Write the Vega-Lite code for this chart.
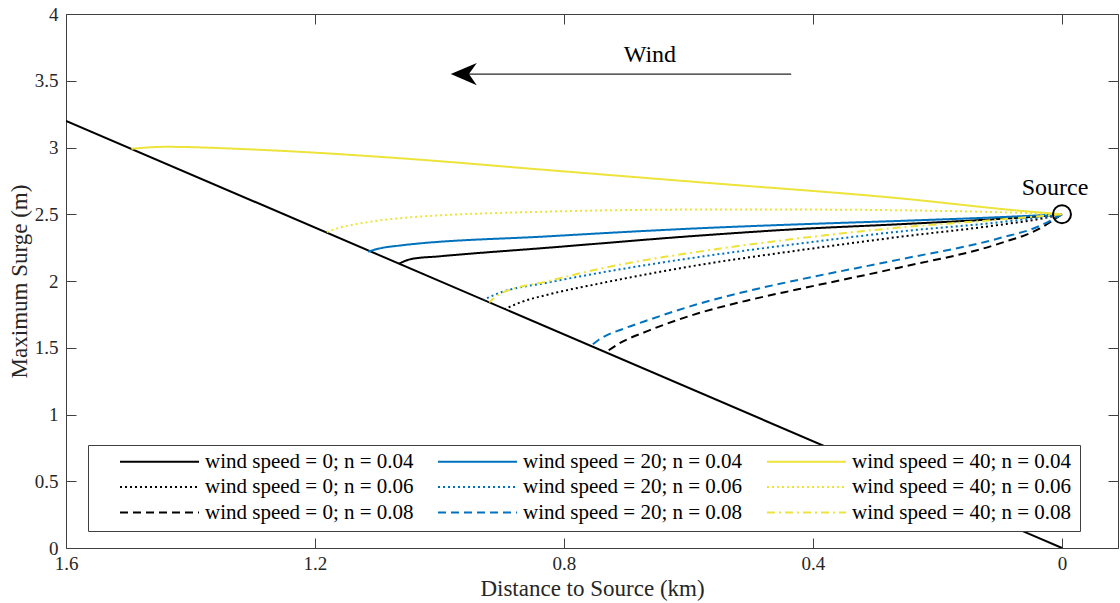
{
  "$schema": "https://vega.github.io/schema/vega-lite/v6.json",
  "width": 1052,
  "height": 534,
  "autosize": "none",
  "padding": {"left": 66, "top": 14, "right": 2, "bottom": 55},
  "background": "white",
  "config": {
    "view": {"stroke": "#404040", "strokeWidth": 1},
    "font": "Liberation Serif",
    "axis": {
      "grid": false,
      "domain": false,
      "tickColor": "#404040",
      "tickSize": -10,
      "labelColor": "#262626",
      "labelFont": "Liberation Serif",
      "labelFontSize": 19,
      "titleFont": "Liberation Serif",
      "titleFontSize": 23,
      "titleFontWeight": "normal",
      "titleColor": "#262626",
      "labelFlush": false
    }
  },
  "datasets": {
    "shore": [
      {"x": 1.6, "y": 3.2},
      {"x": 0.0, "y": 0.0}
    ],
    "curves": [
      {"series": "wind speed = 0; n = 0.04", "x": 1.065, "y": 2.13},
      {"series": "wind speed = 0; n = 0.04", "x": 1.045, "y": 2.165},
      {"series": "wind speed = 0; n = 0.04", "x": 1.0, "y": 2.185},
      {"series": "wind speed = 0; n = 0.04", "x": 0.824, "y": 2.25},
      {"series": "wind speed = 0; n = 0.04", "x": 0.583, "y": 2.34},
      {"series": "wind speed = 0; n = 0.04", "x": 0.42, "y": 2.39},
      {"series": "wind speed = 0; n = 0.04", "x": 0.262, "y": 2.425},
      {"series": "wind speed = 0; n = 0.04", "x": 0.101, "y": 2.465},
      {"series": "wind speed = 0; n = 0.04", "x": 0.03, "y": 2.487},
      {"series": "wind speed = 0; n = 0.04", "x": 0.0, "y": 2.5},

      {"series": "wind speed = 20; n = 0.04", "x": 1.115, "y": 2.22},
      {"series": "wind speed = 20; n = 0.04", "x": 1.09, "y": 2.25},
      {"series": "wind speed = 20; n = 0.04", "x": 1.065, "y": 2.265},
      {"series": "wind speed = 20; n = 0.04", "x": 0.824, "y": 2.335},
      {"series": "wind speed = 20; n = 0.04", "x": 0.583, "y": 2.395},
      {"series": "wind speed = 20; n = 0.04", "x": 0.42, "y": 2.425},
      {"series": "wind speed = 20; n = 0.04", "x": 0.262, "y": 2.45},
      {"series": "wind speed = 20; n = 0.04", "x": 0.101, "y": 2.478},
      {"series": "wind speed = 20; n = 0.04", "x": 0.0, "y": 2.5},

      {"series": "wind speed = 40; n = 0.04", "x": 1.495, "y": 2.99},
      {"series": "wind speed = 40; n = 0.04", "x": 1.47, "y": 3.0},
      {"series": "wind speed = 40; n = 0.04", "x": 1.439, "y": 3.005},
      {"series": "wind speed = 40; n = 0.04", "x": 1.3, "y": 2.985},
      {"series": "wind speed = 40; n = 0.04", "x": 1.065, "y": 2.92},
      {"series": "wind speed = 40; n = 0.04", "x": 0.824, "y": 2.83},
      {"series": "wind speed = 40; n = 0.04", "x": 0.583, "y": 2.74},
      {"series": "wind speed = 40; n = 0.04", "x": 0.262, "y": 2.62},
      {"series": "wind speed = 40; n = 0.04", "x": 0.053, "y": 2.52},
      {"series": "wind speed = 40; n = 0.04", "x": 0.0, "y": 2.5},

      {"series": "wind speed = 0; n = 0.06", "x": 0.895, "y": 1.79},
      {"series": "wind speed = 0; n = 0.06", "x": 0.87, "y": 1.84},
      {"series": "wind speed = 0; n = 0.06", "x": 0.824, "y": 1.9},
      {"series": "wind speed = 0; n = 0.06", "x": 0.744, "y": 1.98},
      {"series": "wind speed = 0; n = 0.06", "x": 0.583, "y": 2.12},
      {"series": "wind speed = 0; n = 0.06", "x": 0.422, "y": 2.23},
      {"series": "wind speed = 0; n = 0.06", "x": 0.262, "y": 2.33},
      {"series": "wind speed = 0; n = 0.06", "x": 0.101, "y": 2.42},
      {"series": "wind speed = 0; n = 0.06", "x": 0.03, "y": 2.47},
      {"series": "wind speed = 0; n = 0.06", "x": 0.0, "y": 2.5},

      {"series": "wind speed = 20; n = 0.06", "x": 0.929, "y": 1.86},
      {"series": "wind speed = 20; n = 0.06", "x": 0.904, "y": 1.91},
      {"series": "wind speed = 20; n = 0.06", "x": 0.824, "y": 1.99},
      {"series": "wind speed = 20; n = 0.06", "x": 0.744, "y": 2.06},
      {"series": "wind speed = 20; n = 0.06", "x": 0.583, "y": 2.18},
      {"series": "wind speed = 20; n = 0.06", "x": 0.422, "y": 2.28},
      {"series": "wind speed = 20; n = 0.06", "x": 0.262, "y": 2.37},
      {"series": "wind speed = 20; n = 0.06", "x": 0.101, "y": 2.44},
      {"series": "wind speed = 20; n = 0.06", "x": 0.03, "y": 2.48},
      {"series": "wind speed = 20; n = 0.06", "x": 0.0, "y": 2.5},

      {"series": "wind speed = 40; n = 0.06", "x": 1.182, "y": 2.365},
      {"series": "wind speed = 40; n = 0.06", "x": 1.16, "y": 2.4},
      {"series": "wind speed = 40; n = 0.06", "x": 1.129, "y": 2.43},
      {"series": "wind speed = 40; n = 0.06", "x": 1.065, "y": 2.47},
      {"series": "wind speed = 40; n = 0.06", "x": 0.824, "y": 2.52},
      {"series": "wind speed = 40; n = 0.06", "x": 0.583, "y": 2.535},
      {"series": "wind speed = 40; n = 0.06", "x": 0.42, "y": 2.535},
      {"series": "wind speed = 40; n = 0.06", "x": 0.262, "y": 2.53},
      {"series": "wind speed = 40; n = 0.06", "x": 0.1, "y": 2.515},
      {"series": "wind speed = 40; n = 0.06", "x": 0.0, "y": 2.5},

      {"series": "wind speed = 0; n = 0.08", "x": 0.733, "y": 1.466},
      {"series": "wind speed = 0; n = 0.08", "x": 0.712, "y": 1.53},
      {"series": "wind speed = 0; n = 0.08", "x": 0.663, "y": 1.63},
      {"series": "wind speed = 0; n = 0.08", "x": 0.583, "y": 1.76},
      {"series": "wind speed = 0; n = 0.08", "x": 0.5, "y": 1.86},
      {"series": "wind speed = 0; n = 0.08", "x": 0.422, "y": 1.94},
      {"series": "wind speed = 0; n = 0.08", "x": 0.262, "y": 2.1},
      {"series": "wind speed = 0; n = 0.08", "x": 0.101, "y": 2.28},
      {"series": "wind speed = 0; n = 0.08", "x": 0.037, "y": 2.39},
      {"series": "wind speed = 0; n = 0.08", "x": 0.0, "y": 2.5},

      {"series": "wind speed = 20; n = 0.08", "x": 0.757, "y": 1.514},
      {"series": "wind speed = 20; n = 0.08", "x": 0.744, "y": 1.56},
      {"series": "wind speed = 20; n = 0.08", "x": 0.7, "y": 1.65},
      {"series": "wind speed = 20; n = 0.08", "x": 0.663, "y": 1.71},
      {"series": "wind speed = 20; n = 0.08", "x": 0.583, "y": 1.83},
      {"series": "wind speed = 20; n = 0.08", "x": 0.5, "y": 1.93},
      {"series": "wind speed = 20; n = 0.08", "x": 0.422, "y": 2.01},
      {"series": "wind speed = 20; n = 0.08", "x": 0.262, "y": 2.16},
      {"series": "wind speed = 20; n = 0.08", "x": 0.101, "y": 2.32},
      {"series": "wind speed = 20; n = 0.08", "x": 0.037, "y": 2.41},
      {"series": "wind speed = 20; n = 0.08", "x": 0.0, "y": 2.5},

      {"series": "wind speed = 40; n = 0.08", "x": 0.92, "y": 1.84},
      {"series": "wind speed = 40; n = 0.08", "x": 0.904, "y": 1.9},
      {"series": "wind speed = 40; n = 0.08", "x": 0.824, "y": 2.0},
      {"series": "wind speed = 40; n = 0.08", "x": 0.744, "y": 2.09},
      {"series": "wind speed = 40; n = 0.08", "x": 0.583, "y": 2.22},
      {"series": "wind speed = 40; n = 0.08", "x": 0.422, "y": 2.32},
      {"series": "wind speed = 40; n = 0.08", "x": 0.262, "y": 2.4},
      {"series": "wind speed = 40; n = 0.08", "x": 0.101, "y": 2.46},
      {"series": "wind speed = 40; n = 0.08", "x": 0.0, "y": 2.5}
    ],
    "source": [{"x": 0.0, "y": 2.5, "label": "Source"}],
    "windArrow": [{"x": 0.435, "x2": 0.953, "y": 3.55, "tip": 0.961, "label": "Wind", "lx": 0.662, "ly": 3.69}]
  },
  "layer": [
    {
      "data": {"name": "shore"},
      "mark": {"type": "line", "color": "black", "strokeWidth": 2, "clip": true},
      "encoding": {
        "x": {
          "field": "x", "type": "quantitative",
          "scale": {"domain": [-0.09, 1.6], "reverse": true, "nice": false, "zero": false},
          "axis": {"orient": "bottom", "values": [0, 0.4, 0.8, 1.2, 1.6], "format": "~g", "title": "Distance to Source (km)", "labelPadding": 16, "titlePadding": 4}
        },
        "y": {
          "field": "y", "type": "quantitative",
          "scale": {"domain": [0, 4], "nice": false},
          "axis": {"orient": "left", "values": [0, 0.5, 1, 1.5, 2, 2.5, 3, 3.5, 4], "format": "~g", "title": "Maximum Surge (m)", "labelPadding": 18, "titlePadding": 3}
        }
      }
    },
    {
      "data": {"name": "shore"},
      "mark": {"type": "point", "opacity": 0},
      "encoding": {
        "x": {"field": "x", "type": "quantitative", "axis": {"orient": "top", "values": [0, 0.4, 0.8, 1.2, 1.6], "labels": false, "title": null}},
        "y": {"field": "y", "type": "quantitative", "axis": {"orient": "right", "values": [0, 0.5, 1, 1.5, 2, 2.5, 3, 3.5, 4], "labels": false, "title": null}}
      }
    },
    {
      "data": {"name": "curves"},
      "mark": {"type": "line", "strokeWidth": 2, "clip": true, "interpolate": "monotone"},
      "encoding": {
        "x": {"field": "x", "type": "quantitative", "axis": null},
        "y": {"field": "y", "type": "quantitative", "axis": null},
        "order": {"field": "x"},
        "color": {
          "field": "series", "type": "nominal",
          "scale": {
            "domain": ["wind speed = 0; n = 0.04", "wind speed = 0; n = 0.06", "wind speed = 0; n = 0.08",
                       "wind speed = 20; n = 0.04", "wind speed = 20; n = 0.06", "wind speed = 20; n = 0.08",
                       "wind speed = 40; n = 0.04", "wind speed = 40; n = 0.06", "wind speed = 40; n = 0.08"],
            "range": ["#000000", "#000000", "#000000", "#0072BD", "#0072BD", "#0072BD", "#EDE33A", "#EDE33A", "#EDE33A"]
          },
          "legend": {
            "orient": "none", "legendX": 22, "legendY": 431, "columns": 3, "title": null,
            "symbolType": "stroke", "symbolSize": 6241, "symbolStrokeWidth": 2,
            "labelFont": "Liberation Serif", "labelFontSize": 21, "labelColor": "black", "labelLimit": 400,
            "clipHeight": 17, "rowPadding": 3.5, "columnPadding": -19, "padding": 8,
            "symbolOffset": 23, "labelOffset": 5,
            "fillColor": "white", "strokeColor": "#404040"
          }
        },
        "strokeDash": {
          "field": "series", "type": "nominal",
          "scale": {
            "domain": ["wind speed = 0; n = 0.04", "wind speed = 0; n = 0.06", "wind speed = 0; n = 0.08",
                       "wind speed = 20; n = 0.04", "wind speed = 20; n = 0.06", "wind speed = 20; n = 0.08",
                       "wind speed = 40; n = 0.04", "wind speed = 40; n = 0.06", "wind speed = 40; n = 0.08"],
            "range": [[1, 0], [2, 3], [8, 5], [1, 0], [2, 3], [8, 5], [1, 0], [2, 3], [8, 4, 2, 4]]
          },
          "legend": {
            "orient": "none", "legendX": 22, "legendY": 431, "columns": 3, "title": null,
            "symbolType": "stroke", "symbolSize": 6241, "symbolStrokeWidth": 2,
            "labelFont": "Liberation Serif", "labelFontSize": 21, "labelColor": "black", "labelLimit": 400,
            "clipHeight": 17, "rowPadding": 3.5, "columnPadding": -19, "padding": 8,
            "symbolOffset": 23, "labelOffset": 5,
            "fillColor": "white", "strokeColor": "#404040"
          }
        }
      }
    },
    {
      "data": {"name": "source"},
      "mark": {"type": "point", "shape": "circle", "filled": false, "size": 324, "stroke": "black", "strokeWidth": 2, "opacity": 1},
      "encoding": {
        "x": {"field": "x", "type": "quantitative", "axis": null},
        "y": {"field": "y", "type": "quantitative", "axis": null}
      }
    },
    {
      "data": {"name": "source"},
      "mark": {"type": "text", "font": "Liberation Serif", "fontSize": 24, "color": "black", "dx": -7, "dy": -26, "align": "center", "baseline": "middle"},
      "encoding": {
        "x": {"field": "x", "type": "quantitative", "axis": null},
        "y": {"field": "y", "type": "quantitative", "axis": null},
        "text": {"field": "label"}
      }
    },
    {
      "data": {"name": "windArrow"},
      "mark": {"type": "rule", "color": "#262626", "strokeWidth": 1.3},
      "encoding": {
        "x": {"field": "x", "type": "quantitative", "axis": null},
        "x2": {"field": "x2"},
        "y": {"field": "y", "type": "quantitative", "axis": null}
      }
    },
    {
      "data": {"name": "windArrow"},
      "mark": {"type": "point", "shape": "M-1,0L1,-0.85L0.4,0L1,0.85Z", "filled": true, "size": 676, "color": "black", "opacity": 1},
      "encoding": {
        "x": {"field": "tip", "type": "quantitative", "axis": null},
        "y": {"field": "y", "type": "quantitative", "axis": null}
      }
    },
    {
      "data": {"name": "windArrow"},
      "mark": {"type": "text", "font": "Liberation Serif", "fontSize": 24, "color": "black", "align": "center", "baseline": "middle"},
      "encoding": {
        "x": {"field": "lx", "type": "quantitative", "axis": null},
        "y": {"field": "ly", "type": "quantitative", "axis": null},
        "text": {"field": "label"}
      }
    }
  ],
  "resolve": {"axis": {"x": "independent", "y": "independent"}}
}
